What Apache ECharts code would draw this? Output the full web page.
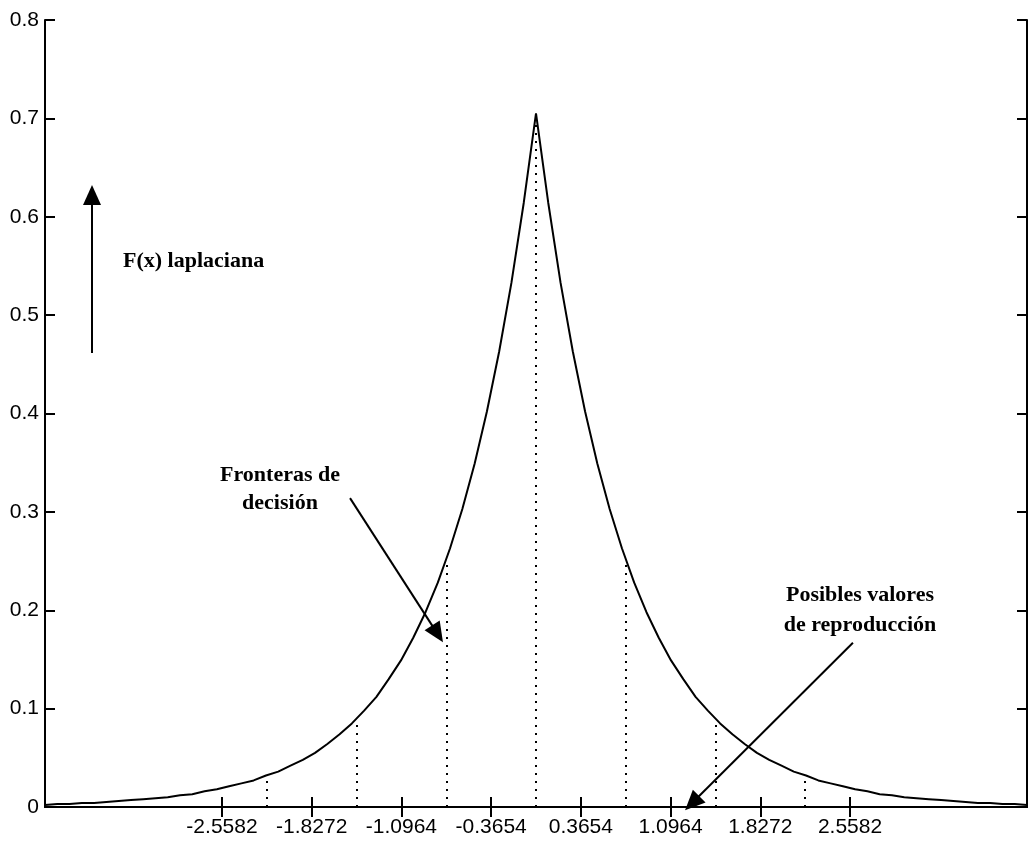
<!DOCTYPE html>
<html>
<head>
<meta charset="utf-8">
<script src="https://cdn.jsdelivr.net/npm/echarts@6/dist/echarts.min.js"></script>
<style>
  html, body { margin: 0; padding: 0; background: #fff; }
  #app { width: 1030px; height: 841px; }
</style>
</head>
<body>
<div id="app"></div>
<script>
// curve samples (x, F(x))
const xVals = [
  -4.0, -3.9, -3.8, -3.7, -3.6, -3.5, -3.4, -3.3, -3.2, -3.1,
  -3.0, -2.9, -2.8, -2.7, -2.6, -2.5, -2.4, -2.3, -2.2, -2.1,
  -2.0, -1.9, -1.8, -1.7, -1.6, -1.5, -1.4, -1.3, -1.2, -1.1,
  -1.0, -0.9, -0.8, -0.7, -0.6, -0.5, -0.4, -0.3, -0.2, -0.1,
  0.0,
  0.1, 0.2, 0.3, 0.4, 0.5, 0.6, 0.7, 0.8, 0.9, 1.0,
  1.1, 1.2, 1.3, 1.4, 1.5, 1.6, 1.7, 1.8, 1.9, 2.0,
  2.1, 2.2, 2.3, 2.4, 2.5, 2.6, 2.7, 2.8, 2.9, 3.0,
  3.1, 3.2, 3.3, 3.4, 3.5, 3.6, 3.7, 3.8, 3.9, 4.0
]
const fVals = [
  0.002, 0.003, 0.003, 0.004, 0.004, 0.005, 0.006, 0.007, 0.008, 0.009,
  0.010, 0.012, 0.013, 0.016, 0.018, 0.021, 0.024, 0.027, 0.032, 0.036,
  0.042, 0.048, 0.055, 0.064, 0.074, 0.085, 0.098, 0.112, 0.130, 0.149,
  0.172, 0.198, 0.228, 0.263, 0.303, 0.349, 0.402, 0.463, 0.533, 0.614,
  0.705,
  0.614, 0.533, 0.463, 0.402, 0.349, 0.303, 0.263, 0.228, 0.198, 0.172,
  0.149, 0.130, 0.112, 0.098, 0.085, 0.074, 0.064, 0.055, 0.048, 0.042,
  0.036, 0.032, 0.027, 0.024, 0.021, 0.018, 0.016, 0.013, 0.012, 0.010,
  0.009, 0.008, 0.007, 0.006, 0.005, 0.004, 0.004, 0.003, 0.003, 0.002
]

// decision boundaries (dotted) and their heights on the curve
const boundaries = [-2.1927, -1.4618, -0.7309, 0, 0.7309, 1.4618, 2.1927]
const boundaryHeights = [0.032, 0.088, 0.25, 0.705, 0.25, 0.088, 0.032]

// reproduction values = x tick labels
const xTicks = [-2.5582, -1.8272, -1.0964, -0.3654, 0.3654, 1.0964, 1.8272, 2.5582]

// annotation arrows in data coords [from, to]
const arrows = [
  [[-3.617, 0.4615], [-3.617, 0.622]],
  [[-1.515, 0.314], [-0.802, 0.176]],
  [[2.582, 0.167], [1.272, 0.004]]
]

const labelFont = { fontFamily: 'Liberation Sans', fontSize: 21, color: '#000' }
const noteFont = 'bold 22px "Liberation Serif"'

const chart = echarts.init(document.getElementById('app'))

const option = {
  animation: false,
  backgroundColor: '#fff',
  grid: { left: 45, right: 3, top: 20, bottom: 34 },
  xAxis: [
    {
      type: 'value', min: -4, max: 4,
      axisLine: { lineStyle: { color: '#000', width: 2 } },
      axisTick: { inside: true, length: 10, customValues: xTicks, lineStyle: { color: '#000', width: 2 } },
      axisLabel: Object.assign({ customValues: xTicks, margin: 10, formatter: v => v.toFixed(4) }, labelFont),
      splitLine: { show: false }
    },
    {
      type: 'value', min: -4, max: 4, position: 'top',
      axisLine: { lineStyle: { color: '#000', width: 2 } },
      axisTick: { inside: true, length: 10, customValues: xTicks, lineStyle: { color: '#000', width: 2 } },
      axisLabel: { show: false },
      splitLine: { show: false }
    }
  ],
  yAxis: [
    {
      type: 'value', min: 0, max: 0.8, interval: 0.1,
      axisLine: { show: true, onZero: false, lineStyle: { color: '#000', width: 2 } },
      axisTick: { show: true, inside: true, length: 10, lineStyle: { color: '#000', width: 2 } },
      axisLabel: Object.assign({ margin: 6 }, labelFont),
      splitLine: { show: false }
    },
    {
      type: 'value', min: 0, max: 0.8, interval: 0.1, position: 'right',
      axisLine: { show: true, onZero: false, lineStyle: { color: '#000', width: 2 } },
      axisTick: { show: true, inside: true, length: 10, lineStyle: { color: '#000', width: 2 } },
      axisLabel: { show: false },
      splitLine: { show: false }
    }
  ],
  series: [
    {
      name: 'laplaciana',
      type: 'line',
      showSymbol: false,
      smooth: false,
      lineStyle: { color: '#000', width: 2 },
      data: xVals.map((x, i) => [x, fVals[i]]),
      markLine: {
        silent: true,
        symbol: 'none',
        label: { show: false },
        lineStyle: { color: '#000', width: 2, type: [2, 6] },
        data: boundaries.map((b, i) => [{ coord: [b, 0] }, { coord: [b, boundaryHeights[i]] }])
      }
    },
    {
      name: 'flechas',
      type: 'line',
      data: [],
      markLine: {
        silent: true,
        symbol: ['none', 'triangle'],
        symbolSize: [18, 20],
        label: { show: false },
        lineStyle: { color: '#000', width: 2, type: 'solid' },
        itemStyle: { color: '#000' },
        data: arrows.map(a => [{ coord: a[0] }, { coord: a[1] }])
      }
    }
  ],
  graphic: [
    { type: 'text', left: 123, top: 250, style: { text: 'F(x) laplaciana', font: noteFont, fill: '#000' } },
    { type: 'text', x: 280, y: 489, style: { text: 'Fronteras de\ndecisión', font: noteFont, fill: '#000', align: 'center', verticalAlign: 'middle', lineHeight: 28 } },
    { type: 'text', x: 860, y: 610, style: { text: 'Posibles valores\nde reproducción', font: noteFont, fill: '#000', align: 'center', verticalAlign: 'middle', lineHeight: 30 } }
  ]
}

chart.setOption(option)
</script>
</body>
</html>
